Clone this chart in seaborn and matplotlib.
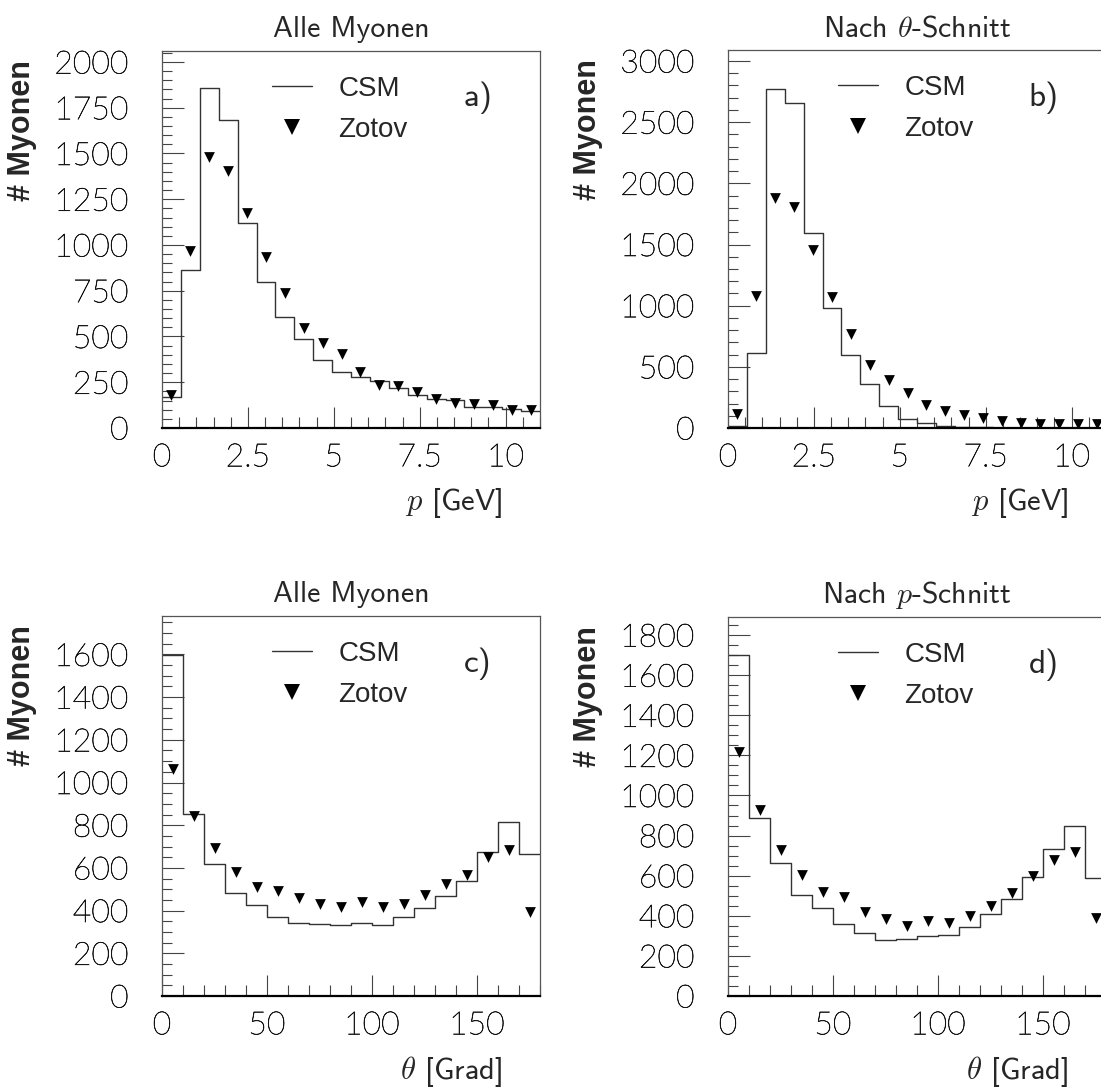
import numpy as np
import pandas as pd
import matplotlib
matplotlib.use("Agg")
import matplotlib.pyplot as plt
import matplotlib.patheffects as pe
from matplotlib.ticker import MultipleLocator
from matplotlib.lines import Line2D
import seaborn as sns

# bins
p_edges = np.arange(0, 11.01, 0.55)
theta_edges = np.arange(0, 181, 10)

# a) Alle Myonen, p
csm_p_all = [170, 863, 1858, 1684, 1119, 799, 604, 485, 374, 307,
             276, 257, 221, 179, 161, 155, 115, 115, 106, 93]
zotov_p_all = [183, 969, 1480, 1407, 1173, 936, 739, 549, 465, 407,
               307, 237, 228, 197, 161, 137, 133, 124, 97, 97]

# b) Nach theta-Schnitt, p
csm_p_cut = [14, 616, 2771, 2659, 1595, 982, 594, 363, 180, 76,
             41, 16, 8, 8, 3, 0, 0, 0, 0, 0]
zotov_p_cut = [112, 1080, 1882, 1808, 1453, 1072, 772, 513, 395, 289,
               185, 136, 104, 82, 55, 41, 35, 35, 30, 30]

# c) Alle Myonen, theta
csm_t_all = [1595, 852, 619, 481, 428, 370, 341, 338, 334, 344,
             334, 370, 414, 470, 541, 673, 816, 667]
zotov_t_all = [1062, 845, 692, 583, 512, 492, 458, 431, 416, 441,
               416, 431, 473, 525, 567, 650, 684, 392]

# d) Nach p-Schnitt, theta
csm_t_cut = [1702, 888, 663, 505, 438, 360, 313, 280, 283, 297,
             305, 343, 410, 483, 593, 735, 847, 588]
zotov_t_cut = [1217, 930, 730, 602, 517, 493, 417, 383, 350, 372,
               363, 397, 447, 513, 597, 677, 717, 388]

sns.set_style("ticks")
plt.rcParams["font.family"] = ["Lato", "DejaVu Sans"]
plt.rcParams["font.weight"] = "light"
plt.rcParams["mathtext.fontset"] = "cm"

W, H = 1101, 1088
fig = plt.figure(figsize=(W / 100, H / 100), dpi=100)


def add_ax(l, t, r, b):
    return fig.add_axes([l / W, 1 - b / H, (r - l) / W, (b - t) / H])


panels = [
    dict(box=(162, 51, 540, 428), edges=p_edges, csm=csm_p_all, zot=zotov_p_all,
         title="Alle Myonen", xlabel=r"$p$ [GeV]", tag="a)", ylim=2060,
         xmaj=2.5, xmin=0.5, ymaj=250, ymin=50, xlim=11),
    dict(box=(728, 50, 1106, 428), edges=p_edges, csm=csm_p_cut, zot=zotov_p_cut,
         title=r"Nach $\theta$-Schnitt", xlabel=r"$p$ [GeV]", tag="b)", ylim=3090,
         xmaj=2.5, xmin=0.5, ymaj=500, ymin=100, xlim=11),
    dict(box=(162, 616, 540, 996), edges=theta_edges, csm=csm_t_all, zot=zotov_t_all,
         title="Alle Myonen", xlabel=r"$\theta$ [Grad]", tag="c)", ylim=1780,
         xmaj=50, xmin=10, ymaj=200, ymin=50, xlim=180),
    dict(box=(728, 617, 1106, 996), edges=theta_edges, csm=csm_t_cut, zot=zotov_t_cut,
         title=r"Nach $p$-Schnitt", xlabel=r"$\theta$ [Grad]", tag="d)", ylim=1890,
         xmaj=50, xmin=10, ymaj=200, ymin=50, xlim=180),
]

for pn in panels:
    ax = add_ax(*pn["box"])
    edges = pn["edges"]
    centers = (edges[:-1] + edges[1:]) / 2
    df = pd.DataFrame({"x": centers, "csm": pn["csm"], "zotov": pn["zot"]})

    sns.histplot(data=df, x="x", weights="csm", bins=list(edges), element="step",
                 fill=False, color="#333333", linewidth=1.0, ax=ax)
    sns.scatterplot(data=df, x="x", y="zotov", marker="v", s=60, color="black",
                    linewidth=0, ax=ax, zorder=3)

    ax.set_xlim(0, pn["xlim"])
    ax.set_ylim(0, pn["ylim"])
    ax.xaxis.set_major_locator(MultipleLocator(pn["xmaj"]))
    ax.xaxis.set_minor_locator(MultipleLocator(pn["xmin"]))
    ax.yaxis.set_major_locator(MultipleLocator(pn["ymaj"]))
    ax.yaxis.set_minor_locator(MultipleLocator(pn["ymin"]))
    ax.xaxis.set_major_formatter(lambda v, pos: f"{v:g}")
    ax.yaxis.set_major_formatter(lambda v, pos: f"{v:g}")

    ax.tick_params(which="both", direction="in", color="#444444", width=0.8,
                   top=False, right=False)
    ax.tick_params(which="major", axis="x", length=15, pad=11, labelsize=23,
                   labelcolor="black")
    ax.tick_params(which="minor", axis="x", length=8)
    ax.tick_params(which="major", axis="y", length=16, pad=24, labelsize=23,
                   labelcolor="black")
    ax.tick_params(which="minor", axis="y", length=7.5)
    # slightly darker thin strokes for the tick numbers
    for lbl in ax.get_xticklabels() + ax.get_yticklabels():
        lbl.set_path_effects([pe.withStroke(linewidth=0.45, foreground="#222222")])

    for s in ["top", "right", "left"]:
        ax.spines[s].set_color("#555555")
        ax.spines[s].set_linewidth(0.9)
    ax.spines["bottom"].set_color("black")
    ax.spines["bottom"].set_linewidth(1.6)

    ax.set_title(pn["title"], fontfamily="cmss10", fontweight="normal",
                 fontsize=21.5, pad=10)
    ax.set_ylabel("# Myonen", loc="top", fontfamily="Liberation Sans",
                  fontweight="bold", fontsize=22)
    ax.yaxis.set_label_coords(-0.33, 0.975)
    ax.set_xlabel(pn["xlabel"], loc="right", fontfamily="cmss10",
                  fontweight="normal", fontsize=22)
    ax.xaxis.set_label_coords(0.9, -0.152)

    ax.text(0.835, 0.875, pn["tag"], transform=ax.transAxes, ha="center",
            va="center", fontfamily="cmss10", fontweight="normal", fontsize=24)

    handles = [Line2D([], [], color="#333333", lw=1.0),
               Line2D([], [], marker="v", ls="none", color="black", ms=12,
                      markeredgewidth=0)]
    ax.legend(handles, ["CSM", "Zotov"], loc="upper left",
              bbox_to_anchor=(0.29, 0.935), frameon=False,
              prop={"family": "Liberation Sans", "size": 20, "weight": "normal"},
              handlelength=1.45, handletextpad=0.95, labelspacing=0.55,
              borderaxespad=0, borderpad=0)

fig.savefig("out.png", dpi=100)
